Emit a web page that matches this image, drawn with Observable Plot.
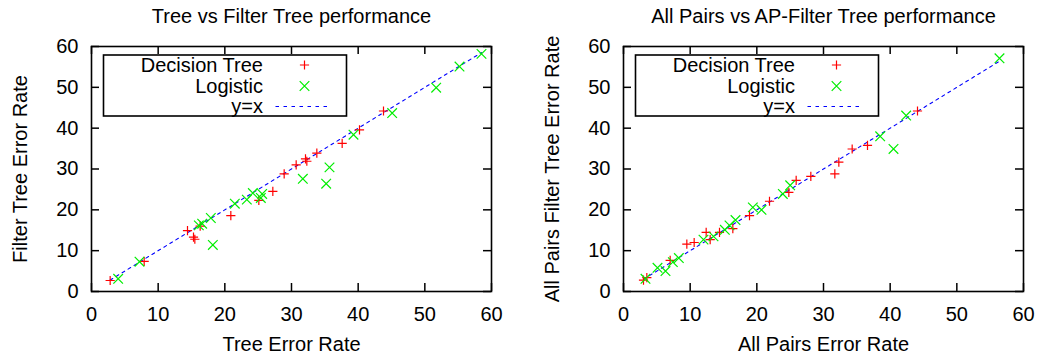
<!DOCTYPE html>
<html>
<head>
<meta charset="utf-8">
<script src="https://cdn.jsdelivr.net/npm/d3@7"></script>
<script src="https://cdn.jsdelivr.net/npm/@observablehq/plot@0.6"></script>
<style>
  html, body { margin: 0; padding: 0; background: #fff; }
  #wrap { display: flex; width: 1042px; height: 355px; }
  svg { display: block; }
</style>
</head>
<body>
<div id="wrap"></div>
<script>
// ---------- data ----------
const axisTicks = [0, 10, 20, 30, 40, 50, 60];
const legendLabels = ["Decision Tree", "Logistic", "y=x"];

// Left panel: Tree vs Filter Tree
const leftTitle = "Tree vs Filter Tree performance";
const leftXLabel = "Tree Error Rate";
const leftYLabel = "Filter Tree Error Rate";
const leftTreeX = [2.8, 7.9, 14.4, 15.3, 15.5, 16.3, 20.9, 25.1, 27.2, 28.9, 30.7, 32.1, 32.3, 33.8, 37.6, 40.2, 43.8];
const leftTreeY = [2.7, 7.4, 14.9, 13.3, 12.8, 16.0, 18.6, 22.3, 24.5, 28.8, 31.0, 32.5, 31.9, 33.9, 36.3, 39.6, 44.2];
const leftLogX = [4.0, 7.2, 16.1, 16.6, 17.9, 18.2, 21.5, 23.3, 24.2, 25.6, 25.4, 31.7, 35.2, 35.7, 39.3, 45.1, 51.7, 55.2, 58.5];
const leftLogY = [3.1, 7.3, 16.2, 16.6, 18.0, 11.4, 21.5, 22.5, 24.1, 23.9, 22.9, 27.6, 26.4, 30.4, 38.4, 43.7, 49.9, 55.1, 58.2];

// Right panel: All Pairs vs AP-Filter Tree
const rightTitle = "All Pairs vs AP-Filter Tree performance";
const rightXLabel = "All Pairs Error Rate";
const rightYLabel = "All Pairs Filter Tree Error Rate";
const rightTreeX = [3.0, 3.5, 7.0, 9.5, 10.6, 12.4, 13.0, 14.4, 16.4, 18.9, 21.9, 24.8, 25.9, 28.1, 31.7, 32.3, 34.3, 36.6, 44.1];
const rightTreeY = [2.8, 3.4, 7.6, 11.6, 12.0, 14.5, 12.7, 14.5, 15.4, 18.6, 22.1, 24.3, 27.2, 28.2, 28.8, 31.7, 34.9, 35.8, 44.2];
const rightLogX = [3.3, 5.1, 6.3, 7.4, 8.3, 12.0, 13.5, 15.2, 15.9, 16.8, 19.4, 20.7, 23.9, 25.0, 38.5, 40.5, 42.4, 56.4];
const rightLogY = [3.1, 5.8, 5.0, 7.2, 8.2, 12.7, 13.5, 15.1, 16.2, 17.5, 20.6, 20.0, 23.9, 26.0, 38.0, 34.9, 43.1, 57.1];

// ---------- styles ----------
const FONT = '"Liberation Sans", Arial, Helvetica, sans-serif';
const RED = "#ff0000", GREEN = "#00ee00", BLUE = "#0000ff";

const plusSymbol = {
  draw(ctx, size) {
    const r = Math.sqrt(size / Math.PI);
    ctx.moveTo(-r, 0); ctx.lineTo(r, 0);
    ctx.moveTo(0, -r); ctx.lineTo(0, r);
  }
};
const timesSymbol = {
  draw(ctx, size) {
    const r = Math.sqrt(size / Math.PI);
    ctx.moveTo(-r, -r); ctx.lineTo(r, r);
    ctx.moveTo(-r, r); ctx.lineTo(r, -r);
  }
};

function zipXY(xs, ys) { return xs.map((x, i) => ({x, y: ys[i]})); }

function makePanel({title, xLabel, yLabel, treeX, treeY, logX, logY, marginLeft, marginRight}) {
  const W = 521, H = 355, mt = 46, mb = 64;
  const fw = W - marginLeft - marginRight, fh = H - mt - mb;
  const tree = zipXY(treeX, treeY);
  const logi = zipXY(logX, logY);
  const ext = d3.extent([...treeX, ...logX]);
  const diag = ext.map(v => ({x: v, y: v}));
  const tick = 8;

  const svg = Plot.plot({
    width: W, height: H,
    marginTop: mt, marginBottom: mb, marginLeft, marginRight,
    style: {fontFamily: FONT, fontSize: "20px", color: "#000", background: "#fff", overflow: "visible"},
    x: {domain: [0, 60]},
    y: {domain: [0, 60]},
    marks: [
      Plot.line(diag, {x: "x", y: "y", stroke: BLUE, strokeWidth: 1.1, strokeDasharray: "3,4"}),
      Plot.dot(tree, {x: "x", y: "y", symbol: plusSymbol, r: 4.6, fill: "none", stroke: RED, strokeWidth: 1.2}),
      Plot.dot(logi, {x: "x", y: "y", symbol: timesSymbol, r: 4.8, fill: "none", stroke: GREEN, strokeWidth: 1.2}),
      Plot.frame({stroke: "#000", strokeWidth: 1.6}),
      Plot.tickX(axisTicks, {x: d => d, insetTop: fh - tick, stroke: "#000", strokeWidth: 1.5}),
      Plot.tickX(axisTicks, {x: d => d, insetBottom: fh - tick, stroke: "#000", strokeWidth: 1.5}),
      Plot.tickY(axisTicks, {y: d => d, insetRight: fw - tick, stroke: "#000", strokeWidth: 1.5}),
      Plot.tickY(axisTicks, {y: d => d, insetLeft: fw - tick, stroke: "#000", strokeWidth: 1.5}),
      Plot.axisX(axisTicks, {tickSize: 0, tickPadding: 15, label: null, fontSize: 20, fill: "#000"}),
      Plot.axisY(axisTicks, {tickSize: 0, tickPadding: 13, label: null, fontSize: 20, fill: "#000"}),
      Plot.text([title], {frameAnchor: "top", dy: -23.5, lineAnchor: "bottom", textAnchor: "middle", fontSize: 20, fill: "#000"}),
      Plot.text([xLabel], {frameAnchor: "bottom", dy: 59, lineAnchor: "bottom", textAnchor: "middle", fontSize: 20, fill: "#000"}),
      Plot.text([yLabel], {frameAnchor: "left", dx: -65, rotate: -90, lineAnchor: "bottom", textAnchor: "middle", fontSize: 20, fill: "#000"})
    ]
  });

  // legend box (inside plot, top-left)
  const bx = marginLeft + 12.5, by = 55, bw = 243, bh = 61;
  const g = d3.select(svg).append("g").attr("class", "legend");
  g.append("rect").attr("x", bx).attr("y", by).attr("width", bw).attr("height", bh)
    .attr("fill", "#fff").attr("stroke", "#000").attr("stroke-width", 1.6);
  const baselines = [71.7, 93, 113];
  legendLabels.forEach((lab, i) => {
    g.append("text").attr("x", bx + 159.5).attr("y", baselines[i])
      .attr("text-anchor", "end").attr("font-size", 20).attr("font-family", FONT)
      .attr("fill", "#000").text(lab);
  });
  const mx = bx + 201;
  g.append("path").attr("d", `M${mx - 4.6},65 h9.2 M${mx},60.4 v9.2`)
    .attr("stroke", RED).attr("stroke-width", 1.2).attr("fill", "none");
  g.append("path").attr("d", `M${mx - 4.8},81.2 l9.6,9.6 M${mx - 4.8},90.8 l9.6,-9.6`)
    .attr("stroke", GREEN).attr("stroke-width", 1.2).attr("fill", "none");
  g.append("line").attr("x1", bx + 172).attr("x2", bx + 227).attr("y1", 106.5).attr("y2", 106.5)
    .attr("stroke", BLUE).attr("stroke-width", 1.1).attr("stroke-dasharray", "3.5,4.5");
  return svg;
}

const wrap = document.getElementById("wrap");
wrap.appendChild(makePanel({
  title: leftTitle, xLabel: leftXLabel, yLabel: leftYLabel,
  treeX: leftTreeX, treeY: leftTreeY, logX: leftLogX, logY: leftLogY,
  marginLeft: 91, marginRight: 30
}));
wrap.appendChild(makePanel({
  title: rightTitle, xLabel: rightXLabel, yLabel: rightYLabel,
  treeX: rightTreeX, treeY: rightTreeY, logX: rightLogX, logY: rightLogY,
  marginLeft: 102, marginRight: 19
}));
</script>
</body>
</html>
